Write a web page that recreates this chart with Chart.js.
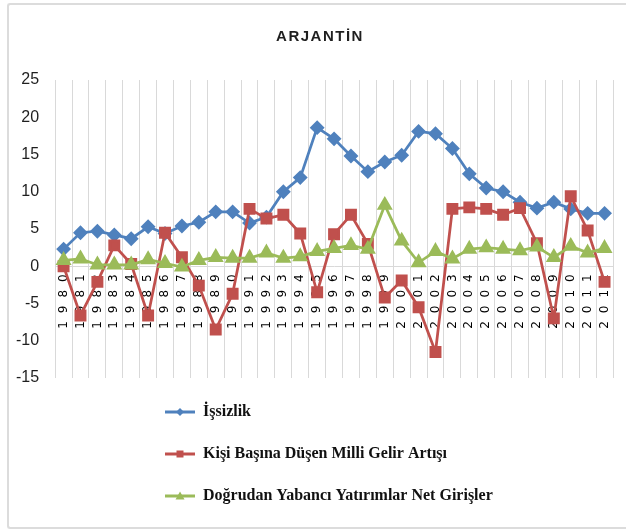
<!DOCTYPE html>
<html>
<head>
<meta charset="utf-8">
<title>Arjantin</title>
<script src="https://cdn.jsdelivr.net/npm/chart.js@4.4.1/dist/chart.umd.min.js"></script>
<style>
  body { margin: 0; overflow: hidden; background: #fff; }
  #wrap { position: relative; width: 626px; height: 531px; overflow: hidden; }
  #frame { position: absolute; left: 7px; top: 3px; width: 640px; height: 522px;
           border: 2px solid #dcdcdc; border-right: none; border-radius: 3px; }
  #grafik { position: absolute; left: 0; top: 0; }
</style>
</head>
<body>
<div id="wrap">
  <div id="frame"></div>
  <canvas id="grafik" width="626" height="531"></canvas>
</div>
<script>
const yillar = ["1980", "1981", "1982", "1983", "1984", "1985", "1986", "1987", "1988", "1989",
  "1990", "1991", "1992", "1993", "1994", "1995", "1996", "1997", "1998", "1999",
  "2000", "2001", "2002", "2003", "2004", "2005", "2006", "2007", "2008", "2009",
  "2010", "2011", "2012"];

const issizlik = [2.3, 4.5, 4.7, 4.2, 3.7, 5.3, 4.4, 5.4, 5.9, 7.3,
  7.3, 5.8, 6.6, 10.0, 11.9, 18.6, 17.1, 14.8, 12.7, 14.0,
  14.9, 18.1, 17.8, 15.8, 12.4, 10.5, 10.0, 8.6, 7.8, 8.6,
  7.7, 7.1, 7.1];

const gelirArtisi = [0.0, -6.6, -2.1, 2.8, 0.3, -6.6, 4.5, 1.2, -2.6, -8.5,
  -3.7, 7.7, 6.4, 6.9, 4.4, -3.5, 4.3, 6.9, 3.0, -4.2,
  -1.9, -5.5, -11.5, 7.7, 7.9, 7.7, 6.9, 7.8, 3.1, -7.0,
  9.4, 4.8, -2.1];

const yatirimlar = [0.8, 1.0, 0.2, 0.2, 0.2, 0.9, 0.4, -0.1, 0.8, 1.2,
  1.1, 1.1, 1.8, 1.1, 1.3, 2.0, 2.4, 2.8, 2.3, 8.2,
  3.4, 0.5, 2.0, 1.0, 2.3, 2.5, 2.3, 2.1, 2.6, 1.2,
  2.7, 1.8, 2.4];

const seriAdlari = ["İşsizlik", "Kişi Başına Düşen Milli Gelir Artışı", "Doğrudan Yabancı Yatırımlar Net Girişler"];
const yEksen = { min: -15, max: 25, adim: 5 };

const MAVI = "#4F81BD";
const KIRMIZI = "#C0504D";
const YESIL = "#9BBB59";

// legend simgesi: cizgi + isaret (Excel gibi)
function simge(renk, tip) {
  const cv = document.createElement("canvas");
  cv.width = 30;
  cv.height = 14;
  const c = cv.getContext("2d");
  c.strokeStyle = renk;
  c.fillStyle = renk;
  c.lineWidth = 3;
  c.beginPath();
  c.moveTo(0, 7);
  c.lineTo(30, 7);
  c.stroke();
  c.beginPath();
  if (tip === "elmas") {
    c.moveTo(15, 3); c.lineTo(19, 7); c.lineTo(15, 11); c.lineTo(11, 7);
  } else if (tip === "kare") {
    c.rect(11.5, 3.5, 7, 7);
  } else {
    c.moveTo(15, 2.5); c.lineTo(19.5, 10.5); c.lineTo(10.5, 10.5);
  }
  c.closePath();
  c.fill();
  return cv;
}
const simgeler = [simge(MAVI, "elmas"), simge(KIRMIZI, "kare"), simge(YESIL, "ucgen")];

const ayarlar = {
  id: "ayarlar",
  afterInit(chart) {
    const baslik = chart.titleBlock;
    const ciz = baslik.draw;
    baslik.draw = function () {
      const c = this.ctx;
      c.save();
      c.letterSpacing = "1.5px";
      ciz.apply(this, arguments);
      c.restore();
    };
  },
  afterLayout(chart) {
    // baslik biraz saga
    const t = chart.titleBlock;
    t.left = 27;
    t.width = t.right - t.left;
    // legend ogeleri alt alta, sola hizali
    const lg = chart.legend;
    lg.left = 139;
    lg.right = 500;
    lg.width = 361;
    lg.height = 150;
    lg.bottom = lg.top + 150;
  },
  beforeDraw(chart) {
    const xs = chart.scales.x;
    if (!xs._aralikli) {
      const ciz = xs.drawLabels;
      xs.drawLabels = function () {
        const c = this.ctx;
        c.save();
        c.letterSpacing = "8px";
        ciz.apply(this, arguments);
        c.restore();
      };
      xs._aralikli = true;
    }
  }
};

const ctx = document.getElementById("grafik").getContext("2d");

let grafik = new Chart(ctx, {
  type: "line",
  data: {
    labels: yillar,
    datasets: [
      {
        label: seriAdlari[0],
        data: issizlik,
        borderColor: MAVI,
        backgroundColor: MAVI,
        pointBackgroundColor: MAVI,
        pointBorderColor: MAVI,
        pointStyle: "rectRot",
        pointRadius: 5.5,
        borderWidth: 2.75,
        order: 2
      },
      {
        label: seriAdlari[1],
        data: gelirArtisi,
        borderColor: KIRMIZI,
        backgroundColor: KIRMIZI,
        pointBackgroundColor: KIRMIZI,
        pointBorderColor: KIRMIZI,
        pointStyle: "rect",
        pointRadius: 6.5,
        borderWidth: 2.75,
        order: 1
      },
      {
        label: seriAdlari[2],
        data: yatirimlar,
        borderColor: YESIL,
        backgroundColor: YESIL,
        pointBackgroundColor: YESIL,
        pointBorderColor: YESIL,
        pointStyle: "triangle",
        pointRadius: 6.5,
        borderWidth: 2.75,
        order: 0
      }
    ]
  },
  options: {
    responsive: false,
    animation: false,
    events: [],
    layout: { padding: { left: 0, right: 13, top: 0, bottom: 59 } },
    elements: { line: { tension: 0 }, point: { borderWidth: 1 } },
    scales: {
      x: {
        position: { y: 0 },
        offset: true,
        grid: { offset: true, color: "#d9d9d9", lineWidth: 1, drawTicks: false },
        border: { display: true, color: "#d9d9d9", width: 1 },
        ticks: {
          autoSkip: false,
          minRotation: 90,
          maxRotation: 90,
          padding: 0,
          color: "#000",
          font: { family: "'DejaVu Sans', sans-serif", size: 12 }
        },
        afterFit(scale) { scale.height = 0; }
      },
      y: {
        min: yEksen.min,
        max: yEksen.max,
        grid: { display: false, drawTicks: false },
        border: { display: false },
        ticks: {
          stepSize: yEksen.adim,
          padding: 16,
          color: "#1f1f1f",
          font: { family: "'Liberation Sans', sans-serif", size: 16 }
        }
      }
    },
    plugins: {
      tooltip: { enabled: false },
      title: {
        display: true,
        text: "ARJANTİN",
        color: "#1f1f1f",
        font: { family: "'Liberation Sans', sans-serif", size: 15, weight: "bold" },
        padding: { top: 28, bottom: 34 }
      },
      legend: {
        position: "bottom",
        align: "start",
        labels: {
          usePointStyle: true,
          pointStyleWidth: 30,
          padding: 26,
          color: "#111",
          font: { family: "'Liberation Serif', serif", size: 16, weight: "bold" },
          generateLabels(chart) {
            const ogeler = Chart.defaults.plugins.legend.labels.generateLabels(chart);
            ogeler.sort((a, b) => a.datasetIndex - b.datasetIndex);
            ogeler.forEach(o => { o.pointStyle = simgeler[o.datasetIndex]; });
            return ogeler;
          }
        }
      }
    }
  },
  plugins: [ayarlar]
});
</script>
</body>
</html>
